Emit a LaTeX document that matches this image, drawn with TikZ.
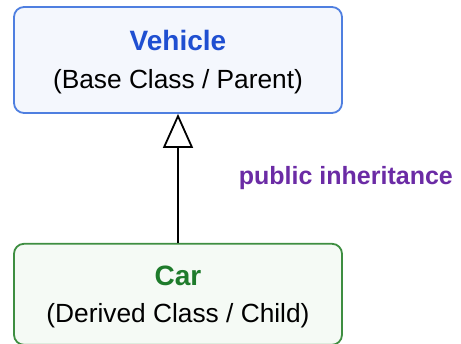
\documentclass[tikz,border=0pt]{standalone}
\usepackage{fontspec}
\setmainfont{Liberation Sans}
\usetikzlibrary{positioning,arrows.meta}

\definecolor{baseline}{HTML}{4F7FE0}
\definecolor{basefill}{HTML}{F4F7FD}
\definecolor{basetext}{HTML}{1F4FD1}
\definecolor{derivline}{HTML}{3E8E41}
\definecolor{derivfill}{HTML}{F5FAF5}
\definecolor{derivtext}{HTML}{1E7B2B}
\definecolor{inhtext}{HTML}{6B2BA5}

\begin{document}
\begin{tikzpicture}[
      x=1pt, y=1pt,
      classbox/.style={
        rectangle, rounded corners=10pt, line width=1.8pt,
        minimum width=328pt, align=center, inner sep=0pt
      },
      title/.style={font=\fontsize{28}{30}\selectfont\bfseries},
      sub/.style={font=\fontsize{26.3}{30}\selectfont},
      >={Triangle[open,length=34pt,width=30pt]}
      ]

  \useasboundingbox (0,0) rectangle (461,344);

  \node[classbox, draw=baseline, fill=basefill, minimum height=106pt]
      at (178,284) (vehicle) {};
  \node[classbox, draw=derivline, fill=derivfill, minimum height=101pt,
        below = 129pt of vehicle] (car) {};

  % texts in the boxes
  \node[title, text=basetext] at (178,303) (vtitle) {Vehicle};
  \node[sub] at (178,262) (vsub) {(Base Class / Parent)};
  \node[title, text=derivtext] at (178,68) (ctitle) {Car};
  \node[sub] at (178,28) (csub) {(Derived Class / Child)};

  % inheritance arrow
  \draw[->, line width=1.8pt] (car) -- (vehicle)
      node[midway, right=60pt, font=\fontsize{25}{30}\selectfont\bfseries,
           text=inhtext, inner sep=0pt] (inh) {public inheritance};

\end{tikzpicture}
\end{document}
